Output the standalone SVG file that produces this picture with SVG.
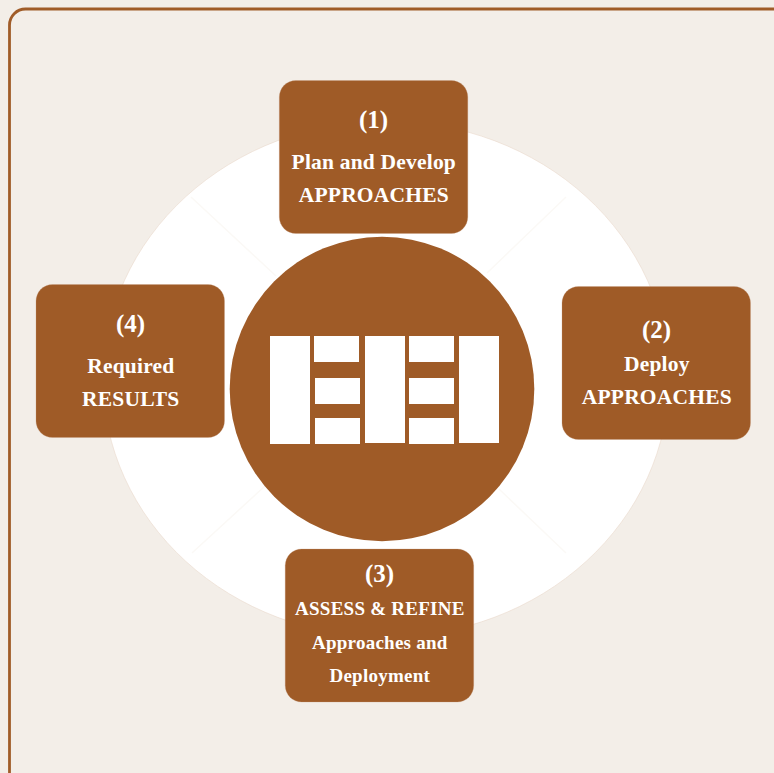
<svg xmlns="http://www.w3.org/2000/svg" width="774" height="773" viewBox="0 0 774 773">
<style>
.box{fill:#9f5b27;stroke:#c49a7c;stroke-width:.4;stroke-opacity:.7}
.t{font-family:"Liberation Serif","Times New Roman",serif;font-weight:700;fill:#fff;text-anchor:middle}
.a{font-size:25px}
.b{font-size:21.500px;letter-spacing:.2px}
.c{font-size:19px;letter-spacing:.25px}
.i{fill:#fff}
.s{stroke:#fbf9f6;stroke-width:1.500;fill:none}
</style>
<rect width="774" height="773" fill="#f3eee8"/>
<rect x="9.500" y="9" width="790" height="790" rx="16" fill="none" stroke="#a05c28" stroke-width="2.800"/>
<ellipse cx="386" cy="379" rx="283" ry="258" fill="#fff" stroke="#ead9cb" stroke-width=".6"/>
<g id="connectors">
<line class="s" x1="191" y1="197" x2="276" y2="276"/>
<line class="s" x1="566" y1="197" x2="487" y2="273"/>
<line class="s" x1="192" y1="553" x2="265" y2="486"/>
<line class="s" x1="566" y1="553" x2="499" y2="489"/>
</g>
<g id="center">
<circle cx="382" cy="389" r="152.300" fill="#9f5b27"/>
<rect class="i" x="270" y="336" width="40" height="108"/>
<rect class="i" x="314" y="336" width="45" height="26"/>
<rect class="i" x="315" y="378" width="45" height="26"/>
<rect class="i" x="315" y="418" width="45" height="26"/>
<rect class="i" x="365" y="336" width="40" height="107"/>
<rect class="i" x="409" y="336" width="45" height="26"/>
<rect class="i" x="409" y="378" width="45" height="26"/>
<rect class="i" x="409" y="418" width="45" height="26"/>
<rect class="i" x="459" y="336" width="40" height="107"/>
</g>
<g id="node1">
<rect class="box" x="279.300" y="80.500" width="188.500" height="153" rx="16.500"/>
<text class="t a" x="373.500" y="128">(1)</text>
<text class="t b" x="373.800" y="169.200">Plan and Develop</text>
<text class="t b" x="373.800" y="202.200">APPROACHES</text>
</g>
<g id="node2">
<rect class="box" x="562" y="286.500" width="188.500" height="153" rx="16.500"/>
<text class="t a" x="656.500" y="338">(2)</text>
<text class="t b" x="656.800" y="371.200">Deploy</text>
<text class="t b" x="656.800" y="404.200">APPROACHES</text>
</g>
<g id="node3">
<rect class="box" x="285.200" y="549" width="188.500" height="153" rx="16.500"/>
<text class="t a" x="379.500" y="582">(3)</text>
<text class="t c" x="379.800" y="615">ASSESS &amp; REFINE</text>
<text class="t c" x="379.800" y="649">Approaches and</text>
<text class="t c" x="379.800" y="682">Deployment</text>
</g>
<g id="node4">
<rect class="box" x="36" y="284.500" width="188.500" height="153" rx="16.500"/>
<text class="t a" x="130.500" y="332">(4)</text>
<text class="t b" x="130.800" y="373.200">Required</text>
<text class="t b" x="130.800" y="406.200">RESULTS</text>
</g>
</svg>
